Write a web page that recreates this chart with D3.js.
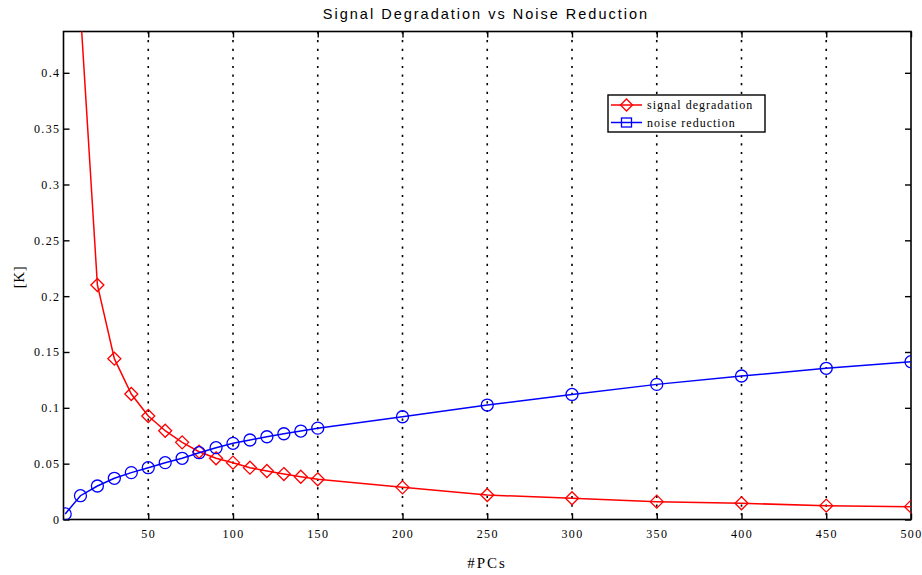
<!DOCTYPE html>
<html>
<head>
<meta charset="utf-8">
<script src="https://cdn.jsdelivr.net/npm/d3@7"></script>
<style>
  html, body { margin: 0; padding: 0; background: #fff; }
  svg { display: block; }
</style>
</head>
<body>
<svg id="chart" width="922" height="575"></svg>
<script>
// Number of principal components kept
const pcsSignal = [10, 20, 30, 40, 50, 60, 70, 80, 90, 100, 110, 120, 130, 140, 150, 200, 250, 300, 350, 400, 450, 500];
const signalDegradation = [0.455, 0.210, 0.144, 0.1124, 0.0927, 0.0795, 0.0691, 0.0607, 0.0548, 0.0509, 0.0464, 0.0434, 0.0407, 0.0383, 0.0360, 0.0288, 0.0219, 0.0190, 0.0160, 0.0145, 0.0124, 0.0115];

const pcsNoise = [1, 10, 20, 30, 40, 50, 60, 70, 80, 90, 100, 110, 120, 130, 140, 150, 200, 250, 300, 350, 400, 450, 500];
const noiseReduction = [0.005, 0.0213, 0.0300, 0.0369, 0.0420, 0.0464, 0.0509, 0.0548, 0.0598, 0.0643, 0.0682, 0.0712, 0.0741, 0.0768, 0.0792, 0.0818, 0.0920, 0.1025, 0.1120, 0.1210, 0.1285, 0.1354, 0.1413];

const xTicks = [50, 100, 150, 200, 250, 300, 350, 400, 450, 500];
const yTicks = [0, 0.05, 0.1, 0.15, 0.2, 0.25, 0.3, 0.35, 0.4];

const titleText = "Signal Degradation vs Noise Reduction";
const xLabel = "#PCs";
const yLabel = "[K]";
const legendLabels = ["signal degradation", "noise reduction"];

const svg = d3.select("#chart");
const plotLeft = 63.5, plotRight = 911, plotTop = 31.5, plotBottom = 519.5;

const x = d3.scaleLinear().domain([0, 500]).range([plotLeft, plotRight]);
const y = d3.scaleLinear().domain([0, 0.437]).range([plotBottom, plotTop]);

const serif = "'Liberation Serif', 'DejaVu Serif', serif";
const sans = "'Liberation Sans', Arial, sans-serif";

// Dotted vertical grid
svg.append("g")
  .selectAll("line")
  .data(xTicks.filter(d => d < 500))
  .join("line")
  .attr("x1", d => x(d)).attr("x2", d => x(d))
  .attr("y1", plotTop).attr("y2", plotBottom)
  .attr("stroke", "#000")
  .attr("stroke-width", 1.6)
  .attr("stroke-dasharray", "2.2,6.4");

// Clip region for the series
svg.append("clipPath").attr("id", "plotClip")
  .append("rect").attr("x", plotLeft).attr("y", plotTop)
  .attr("width", plotRight - plotLeft).attr("height", plotBottom - plotTop);

// Axes (ticks pointing inward on all four sides)
const tickLen = 6;
const xAxisB = d3.axisBottom(x).tickValues(xTicks).tickSizeInner(-tickLen).tickSizeOuter(0).tickPadding(10).tickFormat(d3.format("d"));
const xAxisT = d3.axisTop(x).tickValues(xTicks).tickSizeInner(-tickLen).tickSizeOuter(0).tickFormat("");
const yAxisL = d3.axisLeft(y).tickValues(yTicks).tickSizeInner(-tickLen).tickSizeOuter(0).tickPadding(3).tickFormat(d => d === 0 ? "0" : String(+d.toFixed(2)));
const yAxisR = d3.axisRight(y).tickValues(yTicks).tickSizeInner(-tickLen).tickSizeOuter(0).tickFormat("");

function styleAxis(g) {
  g.select(".domain").remove();
  g.selectAll("line").attr("stroke", "#000").attr("stroke-width", 1.4);
  g.selectAll("text").attr("font-family", serif).attr("font-size", 12)
    .attr("letter-spacing", "1.4px").attr("fill", "#000");
}

svg.append("g").attr("transform", `translate(0,${plotBottom})`).call(xAxisB).call(styleAxis);
svg.append("g").attr("transform", `translate(0,${plotTop})`).call(xAxisT).call(styleAxis);
svg.append("g").attr("transform", `translate(${plotLeft},0)`).call(yAxisL).call(styleAxis);
svg.append("g").attr("transform", `translate(${plotRight},0)`).call(yAxisR).call(styleAxis);

// Axes box
svg.append("rect")
  .attr("x", plotLeft).attr("y", plotTop)
  .attr("width", plotRight - plotLeft).attr("height", plotBottom - plotTop)
  .attr("fill", "none").attr("stroke", "#000").attr("stroke-width", 1.6);

const line = d3.line().x(d => x(d[0])).y(d => y(d[1]));
const redData = pcsSignal.map((p, i) => [p, signalDegradation[i]]);
const blueData = pcsNoise.map((p, i) => [p, noiseReduction[i]]);

const plot = svg.append("g").attr("clip-path", "url(#plotClip)");

const red = "#ff0000", blue = "#0000ff";
const diamondSize = 6.5, circleR = 6;

function diamondPath(cx, cy, s) {
  return `M${cx},${cy - s}L${cx + s},${cy}L${cx},${cy + s}L${cx - s},${cy}Z`;
}

// Signal degradation
plot.append("path").datum(redData).attr("d", line)
  .attr("fill", "none").attr("stroke", red).attr("stroke-width", 1.5);
plot.append("g").selectAll("path").data(redData).join("path")
  .attr("d", d => diamondPath(x(d[0]), y(d[1]), diamondSize))
  .attr("fill", "none").attr("stroke", red).attr("stroke-width", 1.3);

// Noise reduction
plot.append("path").datum(blueData).attr("d", line)
  .attr("fill", "none").attr("stroke", blue).attr("stroke-width", 1.5);
plot.append("g").selectAll("circle").data(blueData).join("circle")
  .attr("cx", d => x(d[0])).attr("cy", d => y(d[1])).attr("r", circleR)
  .attr("fill", "none").attr("stroke", blue).attr("stroke-width", 1.3);

// Title and axis labels
svg.append("text").attr("x", 486).attr("y", 19)
  .attr("text-anchor", "middle").attr("font-family", sans).attr("font-size", 14.5)
  .attr("letter-spacing", "2px")
  .text(titleText);
svg.append("text").attr("x", 487).attr("y", 568)
  .attr("text-anchor", "middle").attr("font-family", serif).attr("font-size", 15)
  .attr("letter-spacing", "2px")
  .text(xLabel);
svg.append("text").attr("transform", "translate(24,277) rotate(-90)")
  .attr("text-anchor", "middle").attr("font-family", serif).attr("font-size", 15)
  .attr("letter-spacing", "0.5px")
  .text(yLabel);

// Legend
const lg = svg.append("g");
lg.append("rect").attr("x", 608).attr("y", 95).attr("width", 157).attr("height", 37)
  .attr("fill", "#fff").attr("stroke", "#000").attr("stroke-width", 1.4);
const legendRows = [
  { label: legendLabels[0], color: red, shape: "diamond", y: 105 },
  { label: legendLabels[1], color: blue, shape: "square", y: 122.5 }
];
legendRows.forEach(r => {
  lg.append("line").attr("x1", 611).attr("x2", 642).attr("y1", r.y).attr("y2", r.y)
    .attr("stroke", r.color).attr("stroke-width", 1.5);
  if (r.shape === "diamond") {
    lg.append("path").attr("d", diamondPath(626.5, r.y, 6)).attr("fill", "none")
      .attr("stroke", r.color).attr("stroke-width", 1.3);
  } else {
    lg.append("rect").attr("x", 621.5).attr("y", r.y - 4.5).attr("width", 10).attr("height", 9)
      .attr("fill", "none").attr("stroke", r.color).attr("stroke-width", 1.3);
  }
  lg.append("text").attr("x", 647).attr("y", r.y + 4).attr("font-family", serif)
    .attr("font-size", 12).attr("letter-spacing", "1px").text(r.label);
});
</script>
</body>
</html>
